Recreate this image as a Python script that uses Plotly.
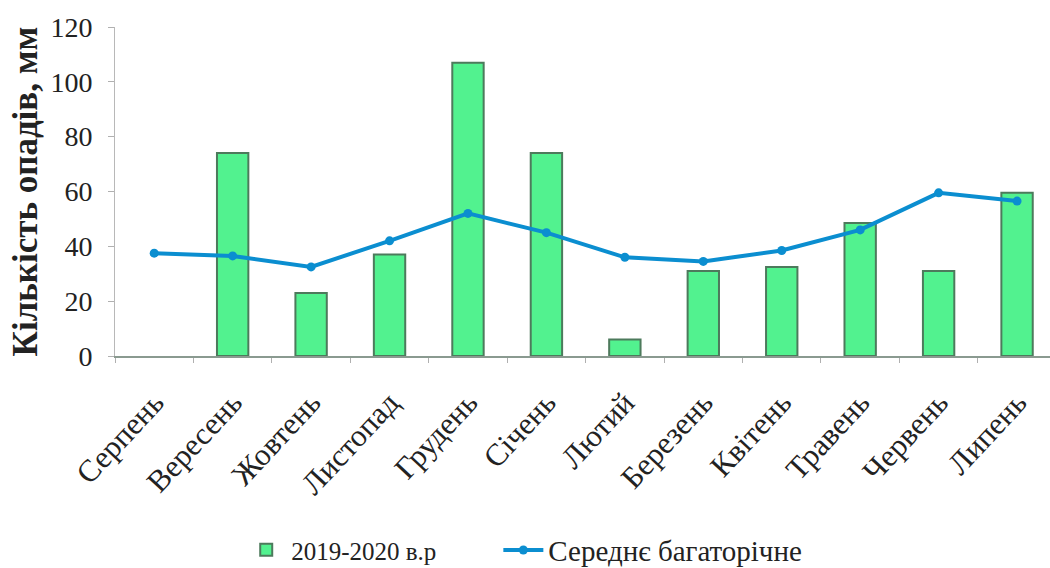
import plotly.graph_objects as go

months = ["Серпень", "Вересень", "Жовтень", "Листопад", "Грудень", "Січень",
          "Лютий", "Березень", "Квітень", "Травень", "Червень", "Липень"]
season_2019_2020 = [None, 74, 23, 37, 107, 74, 6, 31, 32.5, 48.5, 31, 59.5]
long_term_mean = [37.5, 36.5, 32.5, 42, 52, 45, 36, 34.5, 38.5, 46, 59.5, 56.5]

serif = "Liberation Serif"

fig = go.Figure()
fig.add_trace(go.Bar(
    x=months, y=season_2019_2020, name="2019-2020 в.р",
    width=0.4, legend="legend",
    marker=dict(color="#52f28f", line=dict(color="#4d7a5c", width=2)),
))
fig.add_trace(go.Scatter(
    x=months, y=long_term_mean, name="Середнє багаторічне",
    mode="lines+markers", legend="legend2",
    line=dict(color="#0b8ed0", width=4),
    marker=dict(color="#0b8ed0", size=9),
))

fig.update_layout(
    width=1050, height=568,
    margin=dict(l=115, r=0, t=27, b=212, autoexpand=False),
    paper_bgcolor="white", plot_bgcolor="white",
    font=dict(family=serif, color="#222222", size=22),
    showlegend=True,
    legend=dict(
        orientation="h", x=0.135, xanchor="left", y=-0.59, yanchor="middle",
        font=dict(size=25, family=serif, color="#222222"), itemwidth=40,
    ),
    legend2=dict(
        orientation="h", x=0.41, xanchor="left", y=-0.59, yanchor="middle",
        font=dict(size=29, family=serif, color="#222222"), itemwidth=40,
    ),
    bargap=0.6,
)
fig.update_xaxes(
    type="category", range=[-0.5, 11.42], automargin=False,
    showline=True, linecolor="#8a9a90", linewidth=2,
    ticks="outside", tickson="boundaries", ticklen=5, tickcolor="#b0b0b0",
    tickangle=-47, tickfont=dict(size=31, family=serif), ticklabelstandoff=14,
    showgrid=False,
)
fig.update_yaxes(
    range=[0, 120], dtick=20, automargin=False,
    showline=True, linecolor="#b8b8b8", linewidth=1,
    ticks="outside", ticklen=6, tickcolor="#b0b0b0",
    tickfont=dict(size=28, family=serif), ticklabelstandoff=10,
    showgrid=False, zeroline=False,
    title=dict(text="<b>Кількість опадів, мм</b>", font=dict(size=35, family=serif), standoff=2),
)

fig.write_html("out.html")
